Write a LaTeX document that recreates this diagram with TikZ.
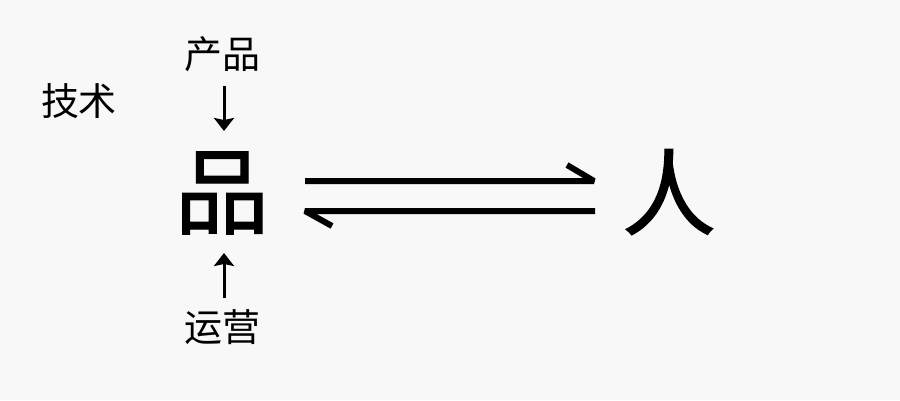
\documentclass[tikz,border=0pt]{standalone}
\usepackage{fontspec}
\newfontfamily\cjk{Noto Sans CJK SC}
\newfontfamily\cjkbig[FakeBold=1.2]{Noto Sans CJK SC}
\usetikzlibrary{arrows.meta}
\definecolor{bg}{RGB}{248,248,248}
\tikzset{
  small/.style={font=\cjk\fontsize{38}{38}\selectfont, inner sep=0pt, anchor=center},
  big/.style={font=\cjkbig\fontsize{94}{94}\selectfont, inner sep=0pt, anchor=center},
  varrow/.style={line width=3pt, -{Stealth[length=13pt,width=20pt,inset=2pt]}},
  harp/.style={line width=6pt, line cap=butt, line join=bevel}
}
\begin{document}
\begin{tikzpicture}[x=1pt,y=-1pt]
\fill[bg] (0,0) rectangle (900,400);
\useasboundingbox (0,0) rectangle (900,400);
\node[small] (tech) at (79,101) {技术};
\node[small] (chan) at (222,54) {产品};
\node[small] (yun) at (222,327) {运营};
\node[big] (pin) at (222,193) {品};
\node[big] (ren) at (669,192) {人};
\coordinate (d1) at (224,86);
\coordinate (d2) at (224,131);
\coordinate (u1) at (224,298);
\coordinate (u2) at (224,253);
\draw[varrow] (d1) -- (d2);
\draw[varrow] (u1) -- (u2);
\coordinate (a1) at (305,181);
\coordinate (a2) at (594,181);
\coordinate (a3) at (567,165);
\coordinate (b1) at (595,211);
\coordinate (b2) at (305,211);
\coordinate (b3) at (332,226);
\draw[harp] (a1) -- (a2) -- (a3);
\draw[harp] (b1) -- (b2) -- (b3);
\end{tikzpicture}
\end{document}
